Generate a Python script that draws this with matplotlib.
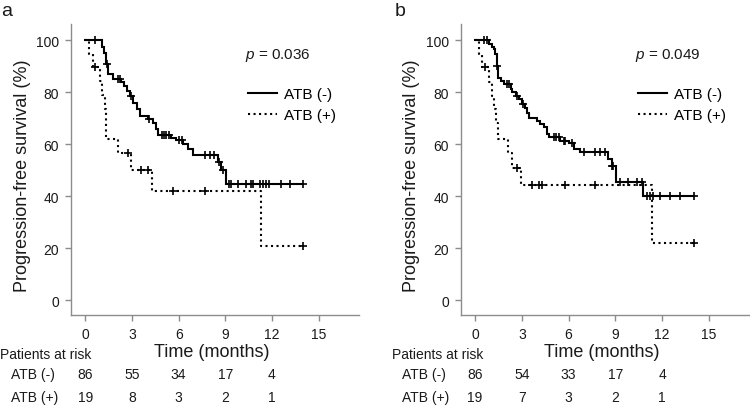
import numpy as np
import matplotlib
matplotlib.use('Agg')
import matplotlib.pyplot as plt
from matplotlib.lines import Line2D
from matplotlib.transforms import blended_transform_factory

plt.rcParams['font.family'] = ['Liberation Sans', 'DejaVu Sans']
plt.rcParams['mathtext.fontset'] = 'custom'
plt.rcParams['mathtext.it'] = 'Liberation Sans:italic'
plt.rcParams['mathtext.rm'] = 'Liberation Sans'

# ---- panel a ----
a_neg_t = [0, 1.1, 1.2, 1.3, 1.45, 1.75, 2.3, 2.5, 2.7, 2.85, 3.05, 3.3, 3.5,
           4.0, 4.35, 4.55, 4.65, 5.5, 5.8, 6.3, 6.6, 6.9, 8.55, 8.75, 9.02]
a_neg_s = [100, 97.5, 95, 91, 87, 85, 83.8, 82.5, 80.5, 78.5, 76, 73.5, 71,
           69.5, 68, 66, 63.5, 62.5, 61.5, 60, 58, 56, 53, 50, 44.5]
a_neg_c = [0.6, 1.4, 2.1, 2.2, 2.95, 4.1, 4.9, 5.05, 5.2, 5.4, 6.05, 6.2,
           7.67, 7.99, 8.3, 8.6, 8.84, 9.23, 9.38, 9.81, 10.35, 10.67, 10.77,
           11.2, 11.41, 11.63, 11.84, 12.6, 13.13, 14.0]

a_pos_t = [0, 0.23, 0.49, 0.92, 1.1, 1.26, 1.3, 1.34, 2.1, 2.95, 4.3, 11.31]
a_pos_s = [100, 94.7, 89.5, 84.2, 79.0, 73.7, 68.4, 62.0, 56.5, 50.2, 41.8, 20.8]
a_pos_c = [0.6, 2.74, 3.6, 4.02, 5.63, 7.67, 14.0]

# ---- panel b ----
b_neg_t = [0, 0.9, 1.11, 1.2, 1.3, 1.38, 1.45, 1.64, 1.85, 2.28, 2.39, 2.6,
           2.81, 3.02, 3.2, 3.3, 3.45, 3.98, 4.19, 4.4, 4.62, 4.77, 5.47, 6.0,
           6.32, 6.75, 8.55, 8.77, 9.02, 10.79]
b_neg_s = [100, 98.5, 97.5, 96.5, 94.5, 90, 85.6, 84.3, 83, 81.2, 79.9, 78.6,
           77.3, 75.4, 74, 72, 70, 69, 67.7, 66.4, 63.8, 62.6, 61.3, 60.6,
           58, 56.8, 54.2, 51.7, 45.4, 40.0]
b_neg_c = [0.57, 0.79, 1.43, 2.07, 2.17, 2.7, 3.05, 5.04, 5.2, 5.36, 5.68,
           5.79, 6.21, 6.96, 7.7, 8.02, 8.34, 8.77, 8.87, 9.3, 9.83, 10.36,
           10.68, 11.0, 11.21, 11.42, 11.85, 12.49, 13.13, 14.05]

b_pos_t = [0, 0.26, 0.47, 0.9, 1.07, 1.21, 1.32, 1.47, 2.13, 2.39, 2.96, 11.32]
b_pos_s = [100, 94.7, 89.5, 84.0, 78.7, 73.4, 68.2, 62.0, 56.6, 50.9, 44.2, 22.1]
b_pos_c = [0.64, 2.7, 3.62, 4.09, 4.3, 5.74, 7.7, 14.04]

risk_times = [0, 3, 6, 9, 12]
a_risk_neg = [86, 55, 34, 17, 4]
a_risk_pos = [19, 8, 3, 2, 1]
b_risk_neg = [86, 54, 33, 17, 4]
b_risk_pos = [19, 7, 3, 2, 1]

p_values = ['0.036', '0.049']
panel_labels = ['a', 'b']


def draw_km(ax, t, s, cens, ls):
    '''Step curve with censor marks'''
    t = np.array(t, dtype=float)
    s = np.array(s, dtype=float)
    end = max(max(cens), t[-1])
    ax.step(np.append(t, end), np.append(s, s[-1]), where='post',
            color='black', lw=1.5, ls=ls, solid_joinstyle='miter')
    idx = np.searchsorted(t, cens, side='right') - 1
    ax.plot(cens, s[idx], ls='none', marker='+', ms=6, mew=1.2, color='black')


def setup_axes(ax):
    for side in ['top', 'right']:
        ax.spines[side].set_visible(False)
    for side in ['left', 'bottom']:
        ax.spines[side].set_color('#8c8c8c')
        ax.spines[side].set_linewidth(1.0)
    ax.set_xlim(-0.92, 17.6)
    ax.set_ylim(-5.6, 106.2)
    ax.set_xticks([0, 3, 6, 9, 12, 15])
    ax.set_yticks([0, 20, 40, 60, 80, 100])
    ax.tick_params(colors='#8c8c8c', labelcolor='#1a1a1a', length=4, width=1,
                   labelsize=10, pad=4.5)
    ax.set_xlabel('Time (months)', fontsize=13, color='#1a1a1a')
    ax.xaxis.set_label_coords(0.49, -0.128)
    ax.xaxis.label.set_verticalalignment('center')
    ax.set_ylabel('Progression-free survival (%)', fontsize=13, color='#1a1a1a')
    ax.yaxis.set_label_coords(-0.17, 0.48)
    ax.yaxis.label.set_verticalalignment('center')


fig = plt.figure(figsize=(7.5, 4.06), dpi=100)
ax_a = fig.add_axes([0.0947, 0.2224, 0.384, 0.716])
ax_b = fig.add_axes([0.6143, 0.2224, 0.385, 0.716])

panels = [
    (ax_a, a_neg_t, a_neg_s, a_neg_c, a_pos_t, a_pos_s, a_pos_c, a_risk_neg, a_risk_pos),
    (ax_b, b_neg_t, b_neg_s, b_neg_c, b_pos_t, b_pos_s, b_pos_c, b_risk_neg, b_risk_pos),
]

for i, (ax, nt, ns, nc, pt, ps, pc, rn, rp) in enumerate(panels):
    setup_axes(ax)
    draw_km(ax, pt, ps, pc, ':')
    draw_km(ax, nt, ns, nc, '-')
    ax.text(10.24, 94.6, r'$p$ = ' + p_values[i], fontsize=11, va='center',
            color='#1a1a1a')
    handles = [Line2D([], [], color='black', lw=1.5, ls='-'),
               Line2D([], [], color='black', lw=1.5, ls=':')]
    ax.legend(handles, ['ATB (-)', 'ATB (+)'], loc='upper left',
              bbox_to_anchor=(0.615, 0.783), frameon=False, fontsize=11,
              handlelength=1.9, handletextpad=0.45, labelspacing=0.45,
              borderpad=0, borderaxespad=0)
    tr = blended_transform_factory(ax.transData, fig.transFigure)
    for x, n1, n2 in zip(risk_times, rn, rp):
        ax.text(x, 0.0764, str(n1), transform=tr, ha='center', va='center',
                fontsize=10, color='#1a1a1a')
        ax.text(x, 0.0197, str(n2), transform=tr, ha='center', va='center',
                fontsize=10, color='#1a1a1a')
    # labels of the risk table, placed relative to the axes left edge
    trl = blended_transform_factory(ax.transAxes, fig.transFigure)
    x0 = -0.247 if i == 0 else -0.239
    ax.text(x0, 0.1256, 'Patients at risk', transform=trl, ha='left',
            va='center', fontsize=10, color='#1a1a1a')
    ax.text(x0 + 0.037, 0.0764, 'ATB (-)', transform=trl, ha='left',
            va='center', fontsize=10, color='#1a1a1a')
    ax.text(x0 + 0.037, 0.0197, 'ATB (+)', transform=trl, ha='left',
            va='center', fontsize=10, color='#1a1a1a')
    ax.text(x0 + 0.006 if i == 0 else x0 + 0.012, 1.045, panel_labels[i],
            transform=ax.transAxes, ha='left', va='center', fontsize=14,
            color='#1a1a1a')

fig.savefig('out.png', dpi=100)
